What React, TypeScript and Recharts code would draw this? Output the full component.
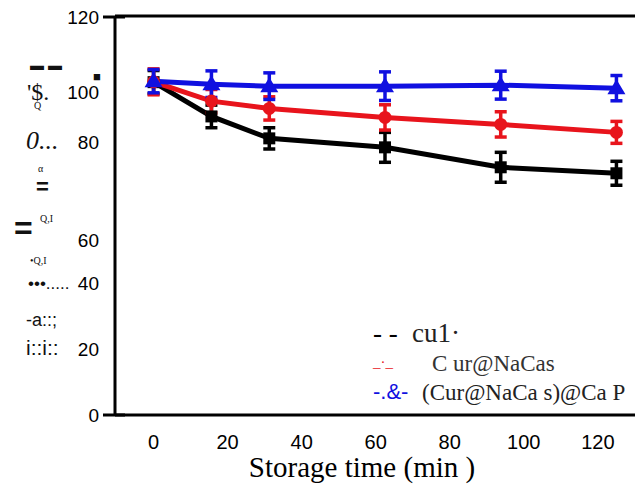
import { LineChart, Line, XAxis, YAxis, ErrorBar, ReferenceLine } from "recharts";

const times = [0, 15, 30, 60, 90, 120];
const cur = [100.1, 89.8, 83.2, 80.5, 74.5, 72.7];
const curErr = [3.5, 3.4, 3.2, 4.5, 4.5, 3.6];
const nacas = [100.2, 94.4, 92.2, 89.5, 87.4, 85.0];
const nacasErr = [3.9, 3.5, 3.5, 3.8, 3.8, 3.3];
const capp = [100.4, 99.5, 98.9, 98.9, 99.2, 98.3];
const cappErr = [3.5, 4.0, 4.0, 4.3, 4.2, 3.8];

const xTicks = [0, 20, 40, 60, 80, 100, 120];
const yTicks = [0, 20, 40, 60, 80, 100, 120];

const seriesNames = ["cu1·", "C ur@NaCas", "(Cur@NaCa s)@Ca P"];
const legendMarks = ["- - ", "_·_", "-.&-"];

const data = times.map((t, i) => ({
  t,
  cur: cur[i],
  curErr: curErr[i],
  nacas: nacas[i],
  nacasErr: nacasErr[i],
  capp: capp[i],
  cappErr: cappErr[i],
}));

const sans = "'Liberation Sans', Arial, sans-serif";
const serif = "'Liberation Serif', 'Times New Roman', serif";

// the source figure prints some tick labels a little off their gridline
const yLabelShift: Record<number, number> = { 100: 9, 80: -7, 60: 24, 40: 1 };
const xLabelShrink = 0.155;

function SquareDot(props: any) {
  const { cx, cy } = props;
  return <rect x={cx - 6} y={cy - 6} width={12} height={12} fill="#000" />;
}
function CircleDot(props: any) {
  const { cx, cy } = props;
  return <circle cx={cx} cy={cy} r={6.5} fill="#e8141c" />;
}
function TriDot(props: any) {
  const { cx, cy } = props;
  return <path d={`M${cx},${cy - 9} L${cx + 9},${cy + 6} L${cx - 9},${cy + 6} Z`} fill="#1010e0" />;
}

function YTick(props: any) {
  const { x, y, payload } = props;
  const v = payload.value;
  const dy = yLabelShift[v] || 0;
  return (
    <g>
      {(v === 0 || v === 120) && <line x1={x - 10} x2={x + 12} y1={y} y2={y} stroke="#000" strokeWidth={3} />}
      <text x={x - 14} y={y + dy + 7} textAnchor="end" fontFamily={sans} fontSize={19} fill="#000">
        {v}
      </text>
    </g>
  );
}

function XTick(props: any) {
  const { x, y, payload } = props;
  return (
    <text x={x - payload.value * xLabelShrink} y={y + 32} textAnchor="middle" fontFamily={sans} fontSize={20} fill="#000">
      {payload.value}
    </text>
  );
}

function LegendBox() {
  const row = (left: number, top: number, size: number, color: string, text: string, family = serif) => (
    <span
      style={{ position: "absolute", left, top, fontSize: size, fontFamily: family, color, whiteSpace: "nowrap", lineHeight: 1 }}
    >
      {text}
    </span>
  );
  return (
    <div style={{ position: "absolute", left: 0, top: 0 }}>
      {row(365, 312, 27, "#000", legendMarks[0])}
      {row(404, 312, 27, "#222", seriesNames[0])}
      {row(365, 347, 15, "#e8141c", legendMarks[1])}
      {row(424, 344, 23, "#333", seriesNames[1])}
      {row(365, 373, 22, "#1010e0", legendMarks[2], sans)}
      {row(414, 373, 23, "#222", seriesNames[2])}
    </div>
  );
}

const junk = [
  { t: "▬ ▬", x: 30, y: 58, s: 14, f: sans },
  { t: "■", x: 93, y: 70, s: 13, f: sans },
  { t: "'$.", x: 27, y: 80, s: 24, f: serif },
  { t: "Q", x: 34, y: 101, s: 10, f: serif },
  { t: "0...", x: 26, y: 128, s: 26, f: serif, i: true },
  { t: "α", x: 38, y: 164, s: 10, f: serif },
  { t: "=", x: 36, y: 176, s: 22, f: sans, b: true },
  { t: "=", x: 14, y: 212, s: 32, f: sans, b: true },
  { t: "Q,I", x: 40, y: 214, s: 10, f: serif },
  { t: "•Q,I", x: 30, y: 256, s: 10, f: serif },
  { t: "•••.....", x: 28, y: 275, s: 17, f: sans },
  { t: "-a::;", x: 26, y: 311, s: 18, f: sans },
  { t: "i::i::", x: 26, y: 337, s: 21, f: sans },
];

export default function App() {
  return (
    <div style={{ position: "relative", width: 635, height: 477, overflow: "hidden", background: "#fff" }}>
      <LineChart
        width={680}
        height={477}
        data={data}
        margin={{ top: 8, right: 33, bottom: 40, left: 47 }}
      >
        <XAxis
          dataKey="t"
          type="number"
          domain={[-10, 130]}
          ticks={xTicks}
          axisLine={{ stroke: "#000", strokeWidth: 3 }}
          tickLine={false}
          tickSize={0}
          tick={<XTick />}
          height={30}
          label={{
            value: "Storage time (min )",
            position: "bottom",
            offset: 11,
            dx: -23,
            style: { fontFamily: serif, fontSize: 29, fill: "#000" },
          }}
        />
        <YAxis
          type="number"
          domain={[0, 120]}
          ticks={yTicks}
          width={60}
          axisLine={{ stroke: "#000", strokeWidth: 3 }}
          tickLine={false}
          tickSize={0}
          tick={<YTick />}
        />
        <ReferenceLine y={120} stroke="#000" strokeWidth={3} />
        <Line dataKey="cur" name={seriesNames[0]} stroke="#000" strokeWidth={5} dot={<SquareDot />} isAnimationActive={false}>
          <ErrorBar dataKey="curErr" stroke="#000" strokeWidth={3.5} width={6} />
        </Line>
        <Line dataKey="nacas" name={seriesNames[1]} stroke="#e8141c" strokeWidth={5} dot={<CircleDot />} isAnimationActive={false}>
          <ErrorBar dataKey="nacasErr" stroke="#e8141c" strokeWidth={3.5} width={6} />
        </Line>
        <Line dataKey="capp" name={seriesNames[2]} stroke="#1010e0" strokeWidth={5} dot={<TriDot />} isAnimationActive={false}>
          <ErrorBar dataKey="cappErr" stroke="#1010e0" strokeWidth={3.5} width={6} />
        </Line>
      </LineChart>
      <LegendBox />
      {junk.map((j, i) => (
        <div
          key={i}
          style={{
            position: "absolute",
            left: j.x - 8,
            top: j.y - 8,
            fontSize: j.s,
            fontFamily: j.f,
            fontStyle: j.i ? "italic" : "normal",
            fontWeight: j.b ? 700 : 400,
            color: "#111",
            whiteSpace: "nowrap",
            lineHeight: 1,
          }}
        >
          {j.t}
        </div>
      ))}
    </div>
  );
}
